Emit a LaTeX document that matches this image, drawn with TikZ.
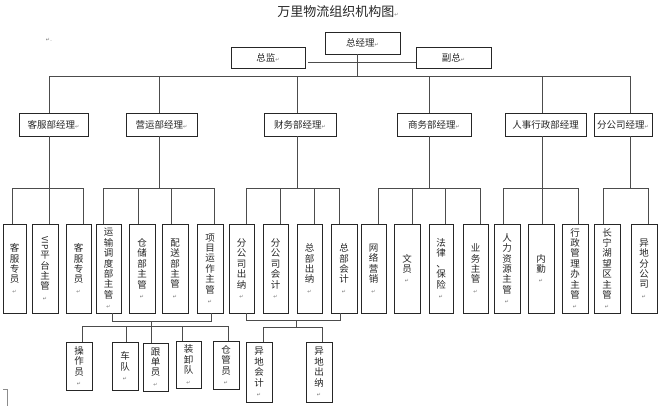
\documentclass[tikz,border=0pt]{standalone}
\usepackage{fontspec}
\newfontfamily\cjk{Noto Sans CJK SC}
\newfontfamily\dejavu{DejaVu Sans}
\newcommand\pmk{{\dejavu\fontsize{5}{5}\selectfont\textcolor{black!55}{↵}}}
\tikzset{
  box/.style={draw=black!85, line width=0.7pt, inner sep=0pt, text=black!85, align=center,
              font=\cjk\fontsize{9.5}{10.4}\selectfont},
  conn/.style={draw=black!70, line width=0.7pt},
}
\newcommand\bx[6]{\node[box, minimum width={(#4-#2)*1pt}, minimum height={(#5-#3)*1pt}] (#1) at ({(#2+#4)/2},{(#3+#5)/2}) {#6};}
\newcommand\topc[2]{\coordinate (#1t) at ([xshift=#2pt]#1.north);}
\newcommand\botc[2]{\coordinate (#1b) at ([xshift=#2pt]#1.south);}
\newcommand\upto[2]{\draw[conn] (#1t) -- (#1t |- #2);}
\begin{document}
\begin{tikzpicture}[x=1pt,y=-1pt]
\useasboundingbox (0,0) rectangle (664,412);
% title
\node[font=\cjk\fontsize{13}{13}\selectfont, text=black!85, inner sep=0pt] (title) at (338,12) {万里物流组织机构图\pmk};
\node[inner sep=0pt] (note) at (49,40) {\pmk{\fontsize{5}{5}\selectfont .}};
% top
\bx{zjl}{325}{32}{400}{54}{总经理\pmk}
\bx{zj}{231}{47}{305}{68}{总监\pmk}
\bx{fz}{416}{47}{491}{68}{副总\pmk}
\coordinate (S) at (0,62);
\coordinate (B1) at (0,76);
\coordinate (B2) at (0,188);
\draw[conn] ([xshift=3pt]zj.east |- S) -- (fz.west |- S);
\botc{zjl}{-5.5}
\draw[conn] (zjlb) -- (zjlb |- B1);
% level 2
\bx{kfj}{19}{113}{88}{136}{客服部经理\pmk}
\bx{yyj}{126}{113}{197}{136}{营运部经理\pmk}
\bx{cwj}{264}{113}{336}{136}{财务部经理\pmk}
\bx{swj}{397}{113}{471}{136}{商务部经理\pmk}
\bx{rsj}{505}{113}{586}{136}{人事行政部经理}
\bx{fgsj}{594}{113}{652}{136}{分公司经理\pmk}
\topc{kfj}{-4}\botc{kfj}{-4}
\topc{yyj}{-2.5}\botc{yyj}{-2.5}
\topc{cwj}{-2.5}\botc{cwj}{-2.5}
\topc{swj}{-5}\botc{swj}{-5}
\topc{rsj}{-3.5}\botc{rsj}{-3.5}
\topc{fgsj}{7}\botc{fgsj}{7}
\draw[conn] (kfjt |- B1) -- (fgsjt |- B1);
\foreach \n in {kfj,yyj,cwj,swj,rsj,fgsj}{\upto{\n}{B1}}
\foreach \n in {kfj,yyj,cwj,swj,rsj,fgsj}{\draw[conn] (\n b) -- (\n b |- B2);}
% level 3
\bx{kfa}{3}{224}{26}{313}{客\\服\\专\\员\\\pmk}
\bx{vip}{32}{224}{58}{313}{\rotatebox{-90}{\fontsize{8.5}{8.5}\selectfont VIP}\\[1pt]平\\台\\主\\管\\\pmk}
\bx{kfb}{66}{224}{91}{313}{客\\服\\专\\员\\\pmk}
\bx{ysdd}{96}{224}{121}{313}{运\\输\\调\\度\\部\\主\\管\\\pmk}
\bx{cc}{129}{224}{155}{313}{仓\\储\\部\\主\\管\\\pmk}
\bx{ps}{162}{224}{188}{313}{配\\送\\部\\主\\管\\\pmk}
\bx{xm}{197}{224}{223}{313}{项\\目\\运\\作\\主\\管\\\pmk}
\bx{fgscn}{229}{224}{254}{313}{分\\公\\司\\出\\纳\\\pmk}
\bx{fgskj}{263}{224}{288}{313}{分\\公\\司\\会\\计\\\pmk}
\bx{zbcn}{297}{224}{322}{313}{总\\部\\出\\纳\\\pmk}
\bx{zbkj}{331}{224}{357}{313}{总\\部\\会\\计\\\pmk}
\bx{wlyx}{361}{224}{386}{313}{网\\络\\营\\销\\\pmk}
\bx{wy}{394}{224}{420}{313}{文\\员\\\pmk}
\bx{fl}{429}{224}{453}{313}{法\\律\\、\\保\\险\\\pmk}
\bx{yw}{463}{224}{488}{313}{业\\务\\主\\管\\\pmk}
\bx{rl}{494}{224}{520}{313}{人\\力\\资\\源\\主\\管\\\pmk}
\bx{nq}{528}{224}{554}{313}{内\\勤\\\pmk}
\bx{xz}{562}{224}{588}{313}{行\\政\\管\\理\\办\\主\\管\\\pmk}
\bx{cn}{594}{224}{620}{313}{长\\宁\\湖\\望\\区\\主\\管\\\pmk}
\bx{yd}{631}{224}{657}{313}{异\\地\\分\\公\\司\\\pmk}
\topc{kfa}{-2.5}\topc{vip}{4.5}\topc{kfb}{4.5}
\topc{ysdd}{-5.5}\topc{cc}{-4}\topc{ps}{-4}\topc{xm}{4}
\topc{fgscn}{4.5}\topc{fgskj}{4.5}\topc{zbcn}{4.5}\topc{zbkj}{-5}
\topc{wlyx}{4.5}\topc{wy}{5}\topc{fl}{4}\topc{yw}{4.5}
\topc{rl}{-4}\topc{nq}{1}\topc{xz}{3}
\topc{cn}{-4}\topc{yd}{4}
\foreach \n in {kfa,vip,kfb,ysdd,cc,ps,xm,fgscn,fgskj,zbcn,zbkj,wlyx,wy,fl,yw,rl,nq,xz,cn,yd}{\upto{\n}{B2}}
\draw[conn] (kfat |- B2) -- (kfbt |- B2);
\draw[conn] (ysddt |- B2) -- (xmt |- B2);
\draw[conn] (fgscnt |- B2) -- (zbkjt |- B2);
\draw[conn] (wlyxt |- B2) -- (ywt |- B2);
\draw[conn] (rlt |- B2) -- (xzt |- B2);
\draw[conn] (cnt |- B2) -- (ydt |- B2);
% level 4
\bx{czy}{66}{342}{92}{390}{操\\作\\员\\\pmk}
\bx{cd}{112}{342}{138}{390}{车\\队\\\pmk}
\bx{gdy}{143}{343}{168}{391}{跟\\单\\员\\\pmk}
\bx{zxd}{176}{341}{201}{388}{装\\卸\\队\\\pmk}
\bx{cgy}{213}{341}{239}{389}{仓\\管\\员\\\pmk}
\bx{ydkj}{246}{342}{272}{402}{异\\地\\会\\计\\\pmk}
\bx{ydcn}{306}{342}{332}{402}{异\\地\\出\\纳\\\pmk}
\topc{czy}{3}\topc{cd}{1}\topc{gdy}{-4.5}\topc{zxd}{-6.5}\topc{cgy}{2}
\topc{ydkj}{4}\topc{ydcn}{3}
\botc{ysdd}{3.5}\botc{xm}{1}\botc{fgscn}{4.5}\botc{zbkj}{-4}
\coordinate (Y4a) at (0,321);
\coordinate (Y4b) at (0,326);
\coordinate (Y4c) at (0,320);
\coordinate (Y4d) at (0,327);
\draw[conn] (ysddb) -- (ysddb |- Y4a) -| (xmb);
\draw[conn] (gdyt |- Y4a) -- (gdyt);
\draw[conn] (czyt |- Y4b) -- (cgyt |- Y4b);
\foreach \n in {czy,cd,zxd,cgy}{\upto{\n}{Y4b}}
\coordinate (cwmid) at (296,320);
\draw[conn] (fgscnb) -- (fgscnb |- Y4c) -| (zbkjb);
\draw[conn] (cwmid) -- (cwmid |- Y4d);
\draw[conn] (ydkjt |- Y4d) -- (ydcnt |- Y4d);
\foreach \n in {ydkj,ydcn}{\upto{\n}{Y4d}}
% page corner mark
\draw[black!45, line width=0.6pt] (3,389) -- (7,389) -- (7,406);
\end{tikzpicture}
\end{document}
